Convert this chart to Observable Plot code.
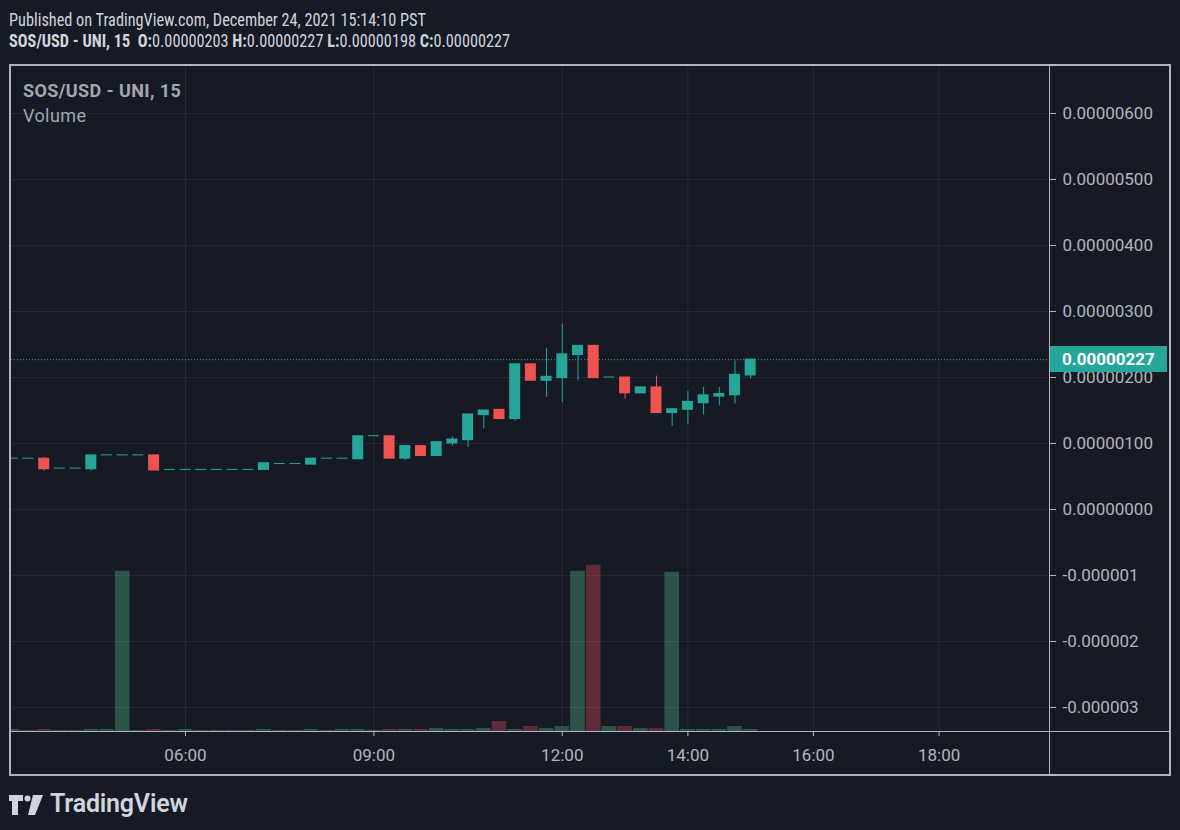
<!DOCTYPE html>
<html>
<head>
<meta charset="utf-8">
<script src="https://cdn.jsdelivr.net/npm/d3@7"></script>
<script src="https://cdn.jsdelivr.net/npm/@observablehq/plot@0.6"></script>
<style>
  html, body { margin: 0; padding: 0; background: #161a25; }
  #root { position: relative; width: 1180px; height: 830px; background: #161a25; overflow: hidden; font-family: Roboto, "Noto Sans", sans-serif; }
  .abs { position: absolute; }
  #root svg { position: absolute; left: 0; top: 0; }
  #frame { left: 9px; top: 64px; width: 1158px; height: 708px; border: 2px solid #b2b5be; pointer-events: none; }
  #sep { left: 1049px; top: 66px; width: 1px; height: 708px; background: #b2b5be; }
  #xline { left: 11px; top: 731px; width: 1158px; height: 1px; background: #b2b5be; }
  .hdr { left: 9px; white-space: nowrap; color: #d1d4dc; font-family: "Liberation Sans Narrow", "Roboto Condensed", Roboto, sans-serif; font-size: 17.5px; line-height: 18px; transform: scaleX(0.93); transform-origin: 0 0; }
  .legend { left: 23px; white-space: nowrap; color: #a3a6af; font-size: 18px; line-height: 18px; letter-spacing: 0.4px; }
  #lastbox { left: 1050px; width: 117px; height: 26px; background: #26a69a; color: #ffffff; font-weight: bold; font-size: 17px; line-height: 26px; padding-left: 12px; box-sizing: border-box; }
  #logo { left: 8px; top: 790px; color: #d1d4dc; }
</style>
</head>
<body>
<div id="root">
  <div class="abs hdr" style="top:11px;">Published on TradingView.com, December 24, 2021 15:14:10 PST</div>
  <div class="abs hdr" style="top:32px;"><b>SOS/USD - UNI, 15</b>&nbsp; <b>O:</b>0.00000203 <b>H:</b>0.00000227 <b>L:</b>0.00000198 <b>C:</b>0.00000227</div>
</div>
<script>
// ---- data (prices in 1e-8 USD) ----
const day = "2021-12-24";
const times = ["03:15","03:30","03:45","04:00","04:15","04:30","04:45","05:00","05:15","05:30","05:45","06:00",
               "06:15","06:30","06:45","07:00","07:15","07:30","07:45","08:00","08:15","08:30","08:45","09:00",
               "09:15","09:30","09:45","10:00","10:15","10:30","10:45","11:00","11:15","11:30","11:45","12:00",
               "12:15","12:30","12:45","13:00","13:15","13:30","13:45","14:00","14:15","14:30","14:45","15:00"];
const opens  = [77,77,77,62,62,61,82,82,82,82,60,60,60,60,60,60,60,69,69,68,77,77,76,111,
                111,77,96,81,100,105,143,151,137,220,195,199,234,248,200,200,176,185,146,151,161,171,173,203];
const highs  = [77,77,79,62,62,82,82,82,82,82,60,60,60,60,60,60,70,69,69,77,77,77,111,111,
                111,96,96,102,110,144,150,151,220,220,244,281,248,248,200,200,185,202,152,179,185,185,225,227];
const lows   = [77,77,58,62,62,58,82,82,82,59,60,60,60,60,60,60,60,69,69,68,77,77,76,111,
                77,74,81,81,96,94,122,137,134,195,170,162,195,199,200,167,176,146,126,129,143,157,160,198];
const closes = [77,77,61,62,62,82,82,82,82,59,60,60,60,60,60,60,70,69,69,77,77,77,111,111,
                77,96,81,102,106,144,150,137,220,195,201,235,248,199,200,176,185,146,152,163,173,175,204,227];
const volumes = [2,1,2,1,1,2,2,160,1,2,1,2,1,1,1,1,2,1,1,2,1,2,2,1,
                 2,2,2,3,2,2,3,10,2,5,3,5,160,166,5,5,3,3,159,2,2,2,5,2];
const priceTicks = [6e-6,5e-6,4e-6,3e-6,2e-6,1e-6,0,-1e-6,-2e-6,-3e-6];
const priceTickLabels = ["0.00000600","0.00000500","0.00000400","0.00000300","0.00000200","0.00000100",
                         "0.00000000","-0.000001","-0.000002","-0.000003"];
const timeTicks = ["06:00","09:00","12:00","14:00","16:00","18:00"];
const xDomain = ["03:13:45","19:45:30"];
const yDomain = [-3.364e-6, 6.712e-6];
const lastLabel = "0.00000227";

// ---- build ----
const green = "#26a69a", red = "#ef5350", grid = "#262a35";
const parse = s => new Date(`${day}T${s.length === 5 ? s + ":00" : s}Z`);
const half = 7.5 * 60 * 1000;
const bars = times.map((t, i) => ({
  time: parse(t),
  t0: new Date(+parse(t) - half),
  t1: new Date(+parse(t) + half),
  open: opens[i] * 1e-8, high: highs[i] * 1e-8, low: lows[i] * 1e-8, close: closes[i] * 1e-8,
  volume: volumes[i],
  up: closes[i] >= opens[i]
}));
const lastClose = bars[bars.length - 1].close;
const labelOf = new Map(priceTicks.map((v, i) => [v, priceTickLabels[i]]));

const common = {
  width: 1180, height: 830,
  marginLeft: 11, marginRight: 131, marginTop: 66, marginBottom: 99
};

const priceChart = Plot.plot({
  ...common,
  style: {background: "transparent", color: "#b2b5be", fontFamily: "Roboto, 'Noto Sans', sans-serif", fontSize: "17px"},
  x: {type: "utc", domain: xDomain.map(parse), ticks: timeTicks.map(parse), tickFormat: d3.utcFormat("%H:%M"),
      tickSize: 5, tickPadding: 12, label: null},
  y: {domain: yDomain, ticks: priceTicks, tickFormat: d => labelOf.get(d), axis: "right",
      tickSize: 6, tickPadding: 7, label: null},
  marks: [
    Plot.ruleY(priceTicks, {stroke: grid}),
    Plot.ruleX(timeTicks.map(parse), {stroke: grid}),
    Plot.ruleY([lastClose], {stroke: green, strokeDasharray: "1,2"}),
    Plot.ruleX(bars.filter(d => d.up && d.high > d.low), {x: "time", y1: "low", y2: "high", stroke: green, clip: true}),
    Plot.ruleX(bars.filter(d => !d.up && d.high > d.low), {x: "time", y1: "low", y2: "high", stroke: red, clip: true}),
    Plot.rect(bars.filter(d => d.up), {x1: "t0", x2: "t1", y1: "open", y2: "close", fill: green,
      insetLeft: 2.35, insetRight: 2.35, insetTop: -0.5, insetBottom: -0.5, clip: true}),
    Plot.rect(bars.filter(d => !d.up), {x1: "t0", x2: "t1", y1: "open", y2: "close", fill: red,
      insetLeft: 2.35, insetRight: 2.35, insetTop: -0.5, insetBottom: -0.5, clip: true})
  ]
});

const volChart = Plot.plot({
  ...common,
  style: {background: "transparent"},
  x: {type: "utc", domain: xDomain.map(parse), axis: null},
  y: {domain: [0, d3.max(volumes) * 4], axis: null},
  marks: [
    Plot.rect(bars.filter(d => d.up), {x1: "t0", x2: "t1", y1: () => 0, y2: "volume", fill: "#53b987", fillOpacity: 0.36,
      insetLeft: 0.5, insetRight: 0.5, clip: true}),
    Plot.rect(bars.filter(d => !d.up), {x1: "t0", x2: "t1", y1: () => 0, y2: "volume", fill: "#eb4d5c", fillOpacity: 0.35,
      insetLeft: 0.5, insetRight: 0.5, clip: true})
  ]
});

const root = document.getElementById("root");
root.appendChild(priceChart);
root.appendChild(volChart);

function addDiv(id, cls, html, style) {
  const d = document.createElement("div");
  if (id) d.id = id;
  d.className = cls;
  if (html) d.innerHTML = html;
  if (style) d.setAttribute("style", style);
  root.appendChild(d);
  return d;
}
addDiv("sep", "abs");
addDiv("xline", "abs");
addDiv("frame", "abs");
addDiv(null, "abs legend", "<b>SOS/USD - UNI, 15</b>", "top:82px;");
addDiv(null, "abs legend", "Volume", "top:107px;");

const yScale = priceChart.scale("y");
const yLast = yScale.apply(lastClose);
addDiv("lastbox", "abs", lastLabel, `top:${(yLast - 13).toFixed(1)}px;`);

addDiv("logo", "abs",
  `<svg width="36" height="22" viewBox="0 0 36 22" style="position:absolute;left:0;top:3px">
     <path d="M1 2h14v6h-5v14h-6v-14h-3z" fill="#d1d4dc"/>
     <circle cx="19.5" cy="5.5" r="3" fill="#d1d4dc"/>
     <path d="M25 2h10l-8 20h-7z" fill="#d1d4dc"/>
   </svg>
   <span style="position:absolute;left:42px;top:0;font-family:Roboto, sans-serif;font-weight:600;font-size:25px;line-height:27px;letter-spacing:-0.2px;white-space:nowrap;">TradingView</span>`);
</script>
</body>
</html>
